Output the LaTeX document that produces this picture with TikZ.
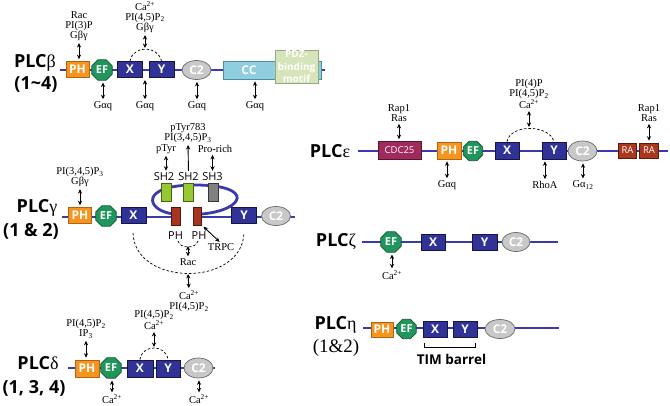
\documentclass[tikz,border=0pt]{standalone}
\usepackage{fontspec}
\setmainfont{Liberation Serif}
\setsansfont{Open Sans}
\usetikzlibrary{arrows.meta,shapes.geometric}
\definecolor{lineblue}{RGB}{58,58,172}
\definecolor{phorange}{RGB}{247,148,29}
\definecolor{phborder}{RGB}{175,100,20}
\definecolor{efgreen}{RGB}{32,150,92}
\definecolor{efborder}{RGB}{18,80,45}
\definecolor{xyblue}{RGB}{48,50,150}
\definecolor{xyborder}{RGB}{22,22,70}
\definecolor{c2gray}{RGB}{200,200,200}
\definecolor{c2border}{RGB}{105,105,105}
\definecolor{ccblue}{RGB}{142,206,222}
\definecolor{ccborder}{RGB}{80,140,160}
\definecolor{pdzgreen}{RGB}{214,228,186}
\definecolor{pdzborder}{RGB}{150,170,130}
\definecolor{shgreen}{RGB}{150,200,50}
\definecolor{shgborder}{RGB}{70,100,20}
\definecolor{shgray}{RGB}{128,128,128}
\definecolor{shgrayborder}{RGB}{55,55,55}
\definecolor{phred}{RGB}{165,52,35}
\definecolor{phredborder}{RGB}{85,22,12}
\definecolor{cdcmag}{RGB}{160,42,92}
\definecolor{cdcborder}{RGB}{85,20,48}
\definecolor{rared}{RGB}{170,56,30}
\definecolor{raborder}{RGB}{90,25,10}
\begin{document}
\begin{tikzpicture}[x=1pt,y=-1pt,
  bb/.style={draw=lineblue, line width=2.8pt},
  dm/.style={draw, line width=0.7pt, inner sep=0pt, text=white, font=\sffamily\bfseries\fontsize{12}{12}\selectfont},
  phbox/.style={dm, rectangle, fill=phorange, draw=phborder, minimum width=23pt, minimum height=16pt},
  efbox/.style={dm, regular polygon, regular polygon sides=8, minimum size=22pt, fill=efgreen, draw=efborder, font=\sffamily\bfseries\fontsize{11}{11}\selectfont},
  xybox/.style={dm, rectangle, fill=xyblue, draw=xyborder, minimum width=25pt, minimum height=16pt},
  c2box/.style={dm, ellipse, fill=c2gray, draw=c2border, minimum width=29pt, minimum height=19pt},
  ccbox/.style={dm, rectangle, fill=ccblue, draw=ccborder, minimum width=98pt, minimum height=18pt},
  pdzbox/.style={dm, rectangle, fill=pdzgreen, draw=pdzborder, minimum width=43pt, minimum height=33pt, align=center, font=\sffamily\bfseries\fontsize{10}{12.5}\selectfont},
  shgbox/.style={dm, rectangle, fill=shgreen, draw=shgborder, minimum width=10pt, minimum height=18pt},
  shybox/.style={dm, rectangle, fill=shgray, draw=shgrayborder, minimum width=10pt, minimum height=18pt},
  phrbox/.style={dm, rectangle, fill=phred, draw=phredborder, minimum width=8.5pt, minimum height=18pt},
  cdcbox/.style={dm, rectangle, fill=cdcmag, draw=cdcborder, minimum width=43pt, minimum height=18pt, font=\sffamily\fontsize{9.5}{9.5}\selectfont},
  rabox/.style={dm, rectangle, fill=rared, draw=raborder, minimum width=18.5pt, minimum height=15pt, font=\sffamily\fontsize{9.5}{9.5}\selectfont},
  wtext/.style={inner sep=0pt, text=white, font=\sffamily\bfseries\fontsize{12}{12}\selectfont},
  lb/.style={font=\fontsize{10.5}{10.3}\selectfont, align=center, inner sep=0pt},
  sl/.style={font=\sffamily\fontsize{11}{11}\selectfont, inner sep=0pt},
  big/.style={font=\sffamily\bfseries\fontsize{18}{18}\selectfont, inner sep=0pt},
  bigr/.style={font=\rmfamily\fontsize{19}{19}\selectfont, inner sep=0pt},
  dbl/.style={{Stealth[length=4.5pt,width=4.2pt]}-{Stealth[length=4.5pt,width=4.2pt]}, line width=0.9pt, shorten <=2pt, shorten >=2pt},
  upar/.style={-{Stealth[length=4.5pt,width=4.2pt]}, line width=0.9pt, shorten <=2pt, shorten >=2pt},
  dsh/.style={dash pattern=on 2.5pt off 2pt, line width=0.7pt}
]
\useasboundingbox (0,0) rectangle (670,405);

% ================= PLC beta =================
\coordinate (bS) at (60,70); \coordinate (bE) at (325,70);
\draw[bb] (bS) -- (bE);
\node[big] (bT1) at (35,63) {PLC{\rmfamily\mdseries β}};
\node[big] (bT2) at (36,84) {(1\textasciitilde4)};
\node[phbox] (bPH) at (77.5,69.5) {PH};
\node[efbox] (bEF) at (102,70) {EF};
\node[xybox] (bX) at (130,69.5) {X};
\node[xybox] (bY) at (161.5,69.5) {Y};
\node[c2box] (bC2) at (196.5,70) {C2};
\node[ccbox] (bCC) at (272,70) {};
\node[wtext] (bCCt) at (249,70) {CC};
\node[pdzbox] (bPDZ) at (296.5,66.5) {PDZ-\\binding\\motif};
\node[lb] (bL1) at (79,26) {Rac\\PI(3)P\\Gβγ};
\node[lb] (bL2) at (145,17) {Ca\textsuperscript{2+}\\PI(4,5)P\textsubscript{2}\\Gβγ};
\coordinate (bXYt) at (145,50);
\draw[dsh] (bX.north) .. controls (133,45) and (158,45) .. (bY.north);
\draw[dbl] (bL1.south) -- (bL1.south |- bPH.north);
\draw[dbl] (bL2.south) -- (bXYt);
\node[lb] (bG1) at (103,106) {Gαq};
\node[lb] (bG2) at (145,106) {Gαq};
\node[lb] (bG3) at (197,106) {Gαq};
\node[lb] (bG4) at (255,106) {Gαq};
\coordinate (bXYb) at (145,78);
\draw[dbl] (bG1.north |- bEF.south) -- (bG1.north);
\draw[dbl] (bXYb) -- (bG2.north);
\draw[dbl] (bG3.north |- bC2.south) -- (bG3.north);
\draw[dbl] (bG4.north |- bCC.south) -- (bG4.north);

% ================= PLC gamma =================
\coordinate (gS) at (62,217); \coordinate (gA) at (173,217);
\coordinate (gB) at (202,217); \coordinate (gE) at (295,217);
\draw[bb] (gS) -- (gA);
\draw[bb] (gB) -- (gE);
\draw[bb] (173,214) .. controls (145,210) and (140,185) .. (195,185)
          .. controls (255,185) and (245,210) .. (202,214);
\node[big] (gT1) at (37,208) {PLC{\rmfamily\mdseries γ}};
\node[big] (gT2) at (31,231) {(1 \& 2)};
\node[phbox] (gPH) at (80,215.5) {PH};
\node[efbox] (gEF) at (106,216) {EF};
\node[xybox] (gX) at (133.5,215.5) {X};
\node[xybox] (gY) at (244,215.5) {Y};
\node[c2box] (gC2) at (276,216) {C2};
\node[shgbox] (gSH2a) at (166,192) {};
\node[shgbox] (gSH2b) at (188.5,192) {};
\node[shybox] (gSH3) at (213,192) {};
\node[phrbox] (gPHa) at (176,216) {};
\node[phrbox] (gPHb) at (197.5,216) {};
\node[sl] (gSL1) at (164,177) {SH2};
\node[sl] (gSL2) at (188.5,177) {SH2};
\node[sl] (gSL3) at (212.5,177) {SH3};
\node[sl] (gPL1) at (175.5,236) {PH};
\node[sl] (gPL2) at (199,236) {PH};
\node[lb] (gL1) at (80,177) {PI(3,4,5)P\textsubscript{3}\\Gβγ};
\node[lb] (gL2) at (166,149) {pTyr};
\node[lb] (gL3) at (188,133) {pTyr783\\PI(3,4,5)P\textsubscript{3}};
\node[lb] (gL4) at (215,149) {Pro-rich};
\draw[dbl] (gL1.south) -- (gL1.south |- gPH.north);
\draw[dbl] (gL2.south) -- (gL2.south |- gSL1.north);
\draw[upar] (gSL2.north) -- (gL3.south);
\draw[dbl] (gSL3.north) -- (gSL3.north |- gL4.south);
\node[lb] (gTR) at (221,247) {TRPC};
\draw[dbl] (gPHb.south east) -- (gTR.north);
\draw[dsh] (178,241) .. controls (180,249) and (196,249) .. (198,241);
\coordinate (gSA) at (188,246);
\node[lb] (gRac) at (188,262) {Rac};
\draw[dbl, shorten <=0pt] (gSA) -- (gRac.north);
\draw[dsh] (133,233) .. controls (135,287) and (242,287) .. (244,233);
\coordinate (gBA) at (188,273);
\node[lb] (gL5) at (189,301) {Ca\textsuperscript{2+}\\PI(4,5)P\textsubscript{2}};
\draw[dbl, shorten <=1pt] (gBA) -- (gL5.north);

% ================= PLC delta =================
\coordinate (dS) at (68,368); \coordinate (dE) at (215,368);
\draw[bb] (dS) -- (dE);
\node[big] (dT1) at (38,363) {PLC{\rmfamily\mdseries δ}};
\node[big] (dT2) at (34,388) {(1, 3, 4)};
\node[phbox, minimum width=24pt, minimum height=17pt] (dPH) at (87,368.5) {PH};
\node[efbox] (dEF) at (111,368) {EF};
\node[xybox, minimum width=26pt, minimum height=17pt] (dX) at (140,368.5) {X};
\node[xybox, minimum width=24pt, minimum height=17pt] (dY) at (168,368.5) {Y};
\node[c2box, minimum height=20pt] (dC2) at (198.5,368) {C2};
\node[lb] (dL1) at (86,329) {PI(4,5)P\textsubscript{2}\\IP\textsubscript{3}};
\node[lb] (dL2) at (154,320) {PI(4,5)P\textsubscript{2}\\Ca\textsuperscript{2+}};
\draw[dbl] (dL1.south) -- (dL1.south |- dPH.north);
\coordinate (dXYt) at (154,349);
\draw[dsh] (dX.north) .. controls (142,344) and (166,344) .. (dY.north);
\draw[dbl] (dL2.south) -- (dXYt);
\node[lb] (dG1) at (112,399) {Ca\textsuperscript{2+}};
\node[lb] (dG2) at (199,399) {Ca\textsuperscript{2+}};
\draw[dbl] (dG1.north |- dEF.south) -- (dG1.north);
\draw[dbl] (dG2.north |- dC2.south) -- (dG2.north);

% ================= PLC epsilon =================
\coordinate (eS) at (358,151); \coordinate (eE) at (668,151);
\draw[bb] (eS) -- (eE);
\node[big] (eT1) at (330,151) {PLC{\rmfamily\mdseries ε}};
\node[cdcbox] (eCDC) at (399.5,150.5) {CDC25};
\node[phbox, minimum width=24pt, minimum height=17pt] (ePH) at (449,150.5) {PH};
\node[efbox, minimum size=21pt] (eEF) at (473,151) {EF};
\node[xybox, minimum width=24pt, minimum height=17pt] (eX) at (507,150.5) {X};
\node[xybox, minimum width=24pt, minimum height=17pt] (eY) at (554,150.5) {Y};
\node[c2box, minimum height=20pt] (eC2) at (582.5,151) {C2};
\node[rabox] (eRA1) at (627.5,150.5) {RA};
\node[rabox] (eRA2) at (649,150.5) {RA};
\node[lb] (eL1) at (399,113) {Rap1\\Ras};
\node[lb] (eL2) at (529,94) {PI(4)P\\PI(4,5)P\textsubscript{2}\\Ca\textsuperscript{2+}};
\node[lb] (eL3) at (649,113) {Rap1\\Ras};
\draw[dbl] (eL1.south) -- (eL1.south |- eCDC.north);
\coordinate (eXYt) at (529,129);
\draw[dsh] (eX.north) .. controls (510,124) and (549,124) .. (eY.north);
\draw[dbl] (eL2.south) -- (eXYt);
\draw[dbl] (eL3.south) -- (eL3.south |- eRA2.north);
\node[lb] (eG1) at (447,185) {Gαq};
\node[lb] (eG2) at (545,185) {RhoA};
\node[lb] (eG3) at (583,185) {Gα\textsubscript{12}};
\draw[dbl] (eG1.north |- ePH.south) -- (eG1.north);
\draw[dbl] (eG2.north |- eY.south) -- (eG2.north);
\draw[dbl] (eG3.north |- eC2.south) -- (eG3.north);

% ================= PLC zeta =================
\coordinate (zS) at (362,242); \coordinate (zE) at (558,242);
\draw[bb] (zS) -- (zE);
\node[big] (zT1) at (336,242) {PLC{\rmfamily\mdseries ζ}};
\node[efbox] (zEF) at (391,242) {EF};
\node[xybox, minimum width=24pt] (zX) at (433,242) {X};
\node[xybox] (zY) at (484.5,242) {Y};
\node[c2box, minimum width=28pt] (zC2) at (516,242) {C2};
\node[lb] (zG1) at (392,275) {Ca\textsuperscript{2+}};
\draw[dbl] (zG1.north |- zEF.south) -- (zG1.north);

% ================= PLC eta =================
\coordinate (hS) at (363,328); \coordinate (hE) at (559,328);
\draw[bb] (hS) -- (hE);
\node[big] (hT1) at (335.5,325) {PLC{\rmfamily\mdseries η}};
\node[bigr] (hT2) at (336,348) {(1\&2)};
\node[phbox, minimum width=22pt, minimum height=15pt] (hPH) at (382,329.5) {PH};
\node[efbox, minimum size=21pt] (hEF) at (406.5,329) {EF};
\node[xybox, minimum width=24pt] (hX) at (435,329) {X};
\node[xybox, minimum width=24pt] (hY) at (465,329) {Y};
\node[c2box, minimum width=30pt] (hC2) at (500,329) {C2};
\coordinate (hB1) at (424,343); \coordinate (hB2) at (475,343);
\draw[line width=0.8pt] (hB1) -- ++(0,4) -| (hB2);
\node[font=\sffamily\bfseries\fontsize{13.5}{13.5}\selectfont, inner sep=0pt] (hTIM) at (451.5,359) {TIM barrel};
\end{tikzpicture}
\end{document}
